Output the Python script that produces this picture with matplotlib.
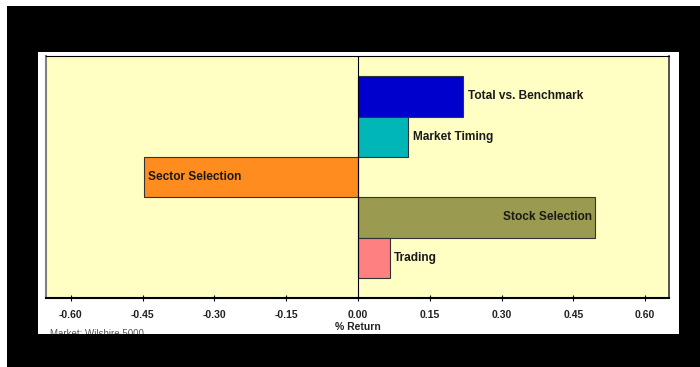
import matplotlib
matplotlib.use("Agg")
import matplotlib.pyplot as plt
from matplotlib.patches import Rectangle

categories = ["Total vs. Benchmark", "Market Timing", "Sector Selection", "Stock Selection", "Trading"]
values = [0.22, 0.105, -0.448, 0.496, 0.067]
colors = ["#0000CC", "#00B6B6", "#FF8C1E", "#9A9A50", "#FF8080"]
xticks = [-0.60, -0.45, -0.30, -0.15, 0.00, 0.15, 0.30, 0.45, 0.60]

plt.rcParams['font.family'] = ['Liberation Sans', 'DejaVu Sans']

W, H = 700, 367
fig = plt.figure(figsize=(7, 3.67), dpi=100, facecolor="white")

def fx(px):
    return px / W

def fy(py):
    return 1 - py / H

# black frame
fig.patches.append(Rectangle((fx(7), 0), fx(700) - fx(7), fy(6), transform=fig.transFigure,
                             facecolor="black", edgecolor="none", zorder=-10))
# white panel
fig.patches.append(Rectangle((fx(38), fy(334)), fx(679) - fx(38), fy(52) - fy(334),
                             transform=fig.transFigure, facecolor="white", edgecolor="none", zorder=-9))

ax = fig.add_axes([fx(46), fy(298), fx(669) - fx(46), fy(56) - fy(298)])
ax.set_facecolor("#FFFFC4")

ypos = list(range(len(categories)))
ax.barh(ypos, values, height=1.0, color=colors, edgecolor="#333333", linewidth=0.8, zorder=2)
ax.axvline(0, color="black", linewidth=0.8, zorder=3)

ax.set_ylim(5, -1)
ax.set_xlim(-0.652, 0.650)
ax.set_yticks([])
ax.set_xticks(xticks)
ax.set_xticklabels([f"{t:.2f}" for t in xticks], fontsize=7.5, fontweight="bold", color="#222222")
ax.tick_params(axis="x", direction="inout", length=5, width=0.8, pad=6)

for y, (c, v) in enumerate(zip(categories, values)):
    if c == "Stock Selection":
        ax.text(v - 0.006, y, c, ha="right", va="center", fontsize=8.6, fontweight="bold", color="#1a1a1a", zorder=4)
    else:
        ax.text(v + 0.009, y, c, ha="left", va="center", fontsize=8.6, fontweight="bold", color="#1a1a1a", zorder=4)

fig.text(fx(358), fy(327), "% Return", fontsize=7.5, fontweight="bold", color="#222222", ha="center", va="center")

for side in ["top", "right", "bottom"]:
    ax.spines[side].set_color("black")
ax.spines["top"].set_linewidth(0.8)
ax.spines["right"].set_linewidth(1.2)
ax.spines["right"].set_color("#333333")
ax.spines["bottom"].set_linewidth(1.5)
ax.spines["left"].set_color("#808080")
ax.spines["left"].set_linewidth(1.5)

fig.text(fx(50), fy(334), "Market: Wilshire 5000", fontsize=7, color="#555555", ha="left", va="center")
# bottom black cover clipping the footnote
fig.patches.append(Rectangle((fx(7), 0), fx(700) - fx(7), fy(334), transform=fig.transFigure,
                             facecolor="black", edgecolor="none", zorder=20))
fig.patches.append(Rectangle((fx(679), 0), 1 - fx(679), fy(6), transform=fig.transFigure,
                             facecolor="black", edgecolor="none", zorder=20))

fig.savefig("out.png", dpi=100, facecolor=fig.get_facecolor())
